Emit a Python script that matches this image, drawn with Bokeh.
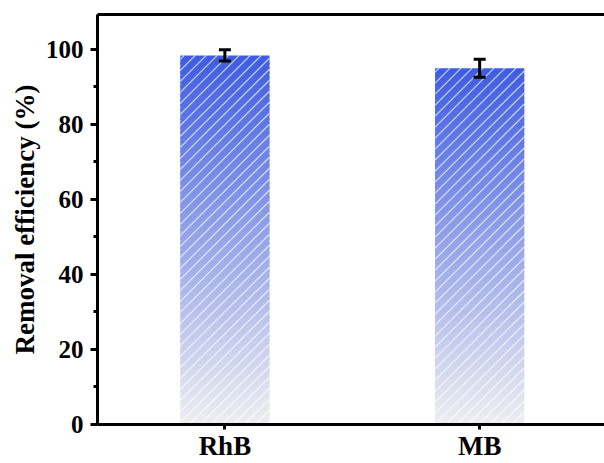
import numpy as np
from bokeh.plotting import figure
from bokeh.models import Range1d, FixedTicker, LinearAxis, Whisker, ColumnDataSource
from bokeh.embed import file_html
from bokeh.resources import INLINE

categories = ["RhB", "MB"]
removal = [98.4, 95.0]
errors = [1.5, 2.4]
y_ticks = [0, 20, 40, 60, 80, 100]

x_pos = [i + 0.5 for i in range(len(categories))]
bar_w = 0.35

W, H = 604, 463
ML, MR, MT, MB_ = 97, 0, 14, 39
X0, X1 = 0.0, 1.99
Y0, Y1 = 0.0, 109.3

p = figure(width=W, height=H, output_backend="svg", toolbar_location=None,
           x_range=Range1d(X0, X1), y_range=Range1d(Y0, Y1),
           min_border_left=ML, min_border_right=MR, min_border_top=MT, min_border_bottom=MB_)
p.outline_line_color = None
p.grid.visible = False
p.background_fill_color = "white"

# gradient bars built from stacked slices
top_rgb = np.array([62, 92, 226])
bot_rgb = np.array([238, 238, 240])
N = 80
for xc, v in zip(x_pos, removal):
    edges = np.linspace(0, v, N + 1)
    fr = (edges[:-1] + edges[1:]) / 2 / v
    cols = ["#%02x%02x%02x" % tuple(int(round(c)) for c in (bot_rgb + (top_rgb - bot_rgb) * f)) for f in fr]
    tops = np.minimum(edges[1:] + 0.6, v)
    p.quad(left=xc - bar_w / 2, right=xc + bar_w / 2, bottom=edges[:-1], top=tops,
           fill_color=cols, line_color=None)

# 45-degree hatch lines clipped to each bar
xs = (W - ML - MR) / (X1 - X0)
ys = (H - MT - MB_) / (Y1 - Y0)
sx0, sy0, sx1, sy1 = [], [], [], []
for xc, v in zip(x_pos, removal):
    left = xc - bar_w / 2
    wpx, hpx = bar_w * xs, v * ys
    for c in np.arange(-hpx + 4, wpx, 11.0):
        u0, u1 = max(0.0, c), min(wpx, c + hpx)
        sx0.append(left + u0 / xs); sy0.append((u0 - c) / ys)
        sx1.append(left + u1 / xs); sy1.append((u1 - c) / ys)
p.segment(x0=sx0, y0=sy0, x1=sx1, y1=sy1, line_color="white", line_alpha=0.7, line_width=1.2)

src = ColumnDataSource(dict(x=x_pos, lower=[v - e for v, e in zip(removal, errors)],
                            upper=[v + e for v, e in zip(removal, errors)]))
w = Whisker(base="x", lower="lower", upper="upper", source=src, line_color="black",
            line_width=3, level="overlay")
for h in (w.upper_head, w.lower_head):
    h.size = 12
    h.line_width = 3
    h.line_color = "black"
p.add_layout(w)

font = "Liberation Serif"
p.yaxis.ticker = FixedTicker(ticks=y_ticks, minor_ticks=[10, 30, 50, 70, 90])
p.xaxis.ticker = FixedTicker(ticks=x_pos, minor_ticks=[])
p.xaxis.major_label_overrides = {x: c for x, c in zip(x_pos, categories)}
for ax in (p.xaxis[0], p.yaxis[0]):
    ax.axis_line_width = 3
    ax.major_tick_line_width = 3
    ax.minor_tick_line_width = 3
    ax.major_tick_in = 0
    ax.minor_tick_out = 4
    ax.minor_tick_in = 0
    ax.major_label_text_font = font
    ax.major_label_text_font_style = "bold"
    ax.major_label_text_color = "black"
    ax.axis_label_text_font = font
    ax.axis_label_text_font_style = "bold"
    ax.axis_label_text_color = "black"
p.yaxis.major_tick_out = 7
p.xaxis.major_tick_out = 5
p.yaxis.major_label_text_font_size = "25px"
p.xaxis.major_label_text_font_size = "27px"
p.yaxis.axis_label_text_font_size = "27px"
p.yaxis.axis_label = "Removal efficiency (%)"
p.yaxis.major_label_standoff = 7
p.yaxis.axis_label_standoff = 3
p.xaxis.major_label_standoff = 1

top_ax = LinearAxis(ticker=FixedTicker(ticks=[]), major_label_text_font_size="0px",
                    axis_line_width=3, major_tick_line_color=None, minor_tick_line_color=None)
p.add_layout(top_ax, "above")

open("out.html", "w").write(file_html(p, INLINE))
